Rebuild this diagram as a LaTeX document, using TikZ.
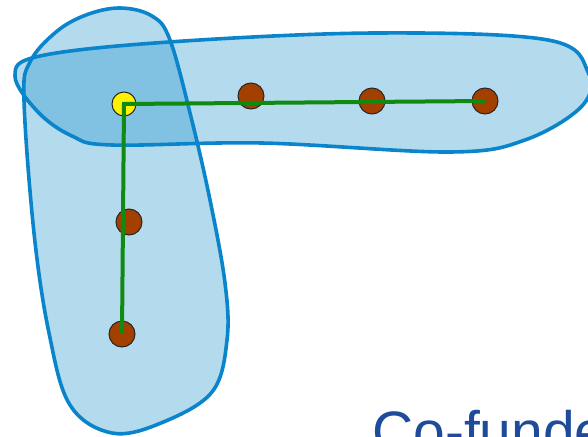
\documentclass[tikz,border=0pt]{standalone}
\usepackage{fontspec}
\setmainfont{Liberation Sans}
\usepackage[dvipsnames, svgnames, x11names]{xcolor}
\definecolor{blobblue}{HTML}{1A90CC}
\definecolor{blobline}{HTML}{0A84CA}
\definecolor{dotbrown}{HTML}{A34000}
\definecolor{dotyellow}{HTML}{FFF200}
\definecolor{linkgreen}{HTML}{108A10}
\definecolor{textblue}{HTML}{1E4C9A}
\usepackage{tikz}
\usetikzlibrary{positioning}
\tikzset{
    blob/.style={fill=blobblue, fill opacity=0.33, draw=none},
    blobedge/.style={draw=blobline, line width=3.6pt, fill=none},
    dot/.style={circle, draw=black!85, line width=1pt, fill=dotbrown, minimum size=26pt, inner sep=0pt},
    hubdot/.style={dot, fill=dotyellow, minimum size=24pt},
    link/.style={draw=linkgreen, line width=4pt}
}
\begin{document}
\begin{tikzpicture}[x=1pt, y=-1pt]
    \useasboundingbox (0,0) rectangle (588,436);
    % Groups
    \def\rowblob{plot[smooth cycle, tension=0.6] coordinates {(15,76) (40,56) (169,42) (375,33) (548,40) (588,72) (582,106) (525,140) (450,152) (262,143) (112,145) (72,136) (38,112)}}
    \def\colblob{plot[smooth cycle, tension=0.6] coordinates {(120,8) (152,16) (170,40) (191,117) (210,200) (225,283) (227,340) (212,392) (161,423) (112,433) (70,405) (49,333) (34,233) (24,100) (30,62) (56,32) (86,15)}}
    \fill[blob] \rowblob;
    \fill[blob] \colblob;
    \draw[blobedge] \rowblob;
    \draw[blobedge] \colblob;
    % Members
    \node[hubdot] (hub) at (124,104) {};
    \foreach \name/\pos in {h1/{(251,96)}, h2/{(372,101)}, h3/{(485,101)}, v1/{(129,222)}, v2/{(122,334)}} {
        \node[dot] (\name) at \pos {};
    }
    % Links
    \draw[link] (h3.center) -- (hub.center) -- (v2.center);
    \node[anchor=base west, inner sep=0pt, text=textblue, font=\fontsize{57}{60}\selectfont] (cofunded) at (372,451) {Co-funde};
\end{tikzpicture}
\end{document}
